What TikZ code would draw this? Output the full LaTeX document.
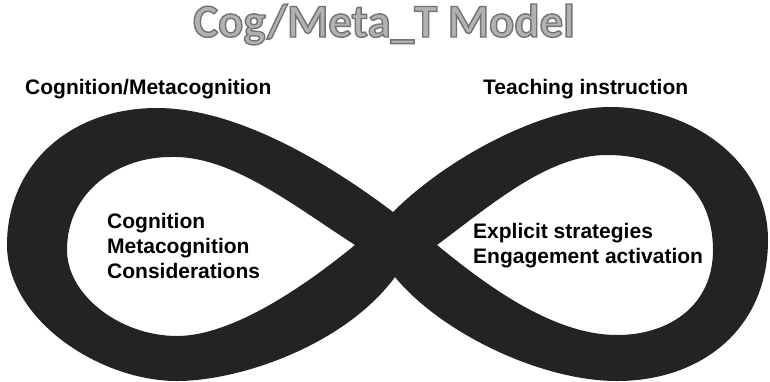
\documentclass[tikz,border=0pt]{standalone}
\usepackage{fontspec}
\setmainfont{Liberation Sans}
\newfontfamily\titlefont{Carlito}
\definecolor{bandblack}{RGB}{35,35,38}
\definecolor{titlefill}{RGB}{178,178,178}
\tikzset{
  lbl/.style={font=\fontsize{21}{25}\selectfont\bfseries, inner sep=0pt, text=black},
  ttl/.style={font=\titlefont\fontsize{47}{50}\selectfont\bfseries, inner sep=0pt, text=titlefill}
}
\begin{document}
\begin{tikzpicture}[x=1pt,y=-1pt]
\useasboundingbox (0,0) rectangle (770,381);
\fill[white] (0,0) rectangle (770,381);

% title
\node[ttl, anchor=base] (title) at (384,37)
  {\special{pdf:literal direct 0.45 0.45 0.45 RG 2 Tr 1.4 w}Cog/Meta\_T Model\special{pdf:literal direct 0 Tr}};

% infinity band (outer contour + two holes, even-odd)
\fill[bandblack, even odd rule]
  (393,212) .. controls (445,160) and (540,107) .. (610,107)
            .. controls (690,107) and (768,160) .. (768,240)
            .. controls (768,330) and (700,381) .. (617,381)
            .. controls (540,381) and (440,332) .. (395,277)
            .. controls (345,345) and (240,381) .. (177,381)
            .. controls (100,381) and (7,320) .. (7,245)
            .. controls (7,165) and (70,108) .. (157,108)
            .. controls (240,108) and (335,168) .. (393,212) -- cycle
  (355,245) .. controls (290,203) and (230,155) .. (170,157)
            .. controls (120,157) and (67,190) .. (67,250)
            .. controls (67,295) and (120,336) .. (177,336)
            .. controls (230,336) and (300,290) .. (355,245) -- cycle
  (437,245) .. controls (497,200) and (550,155) .. (607,155)
            .. controls (665,155) and (713,185) .. (713,250)
            .. controls (713,305) and (670,335) .. (617,335)
            .. controls (550,335) and (480,280) .. (437,245) -- cycle;

% labels
\node[lbl, anchor=base west] (cogmeta) at (25,94) {Cognition/Metacognition};
\node[lbl, anchor=base west] (teach) at (483,94) {Teaching instruction};
\node[lbl, anchor=base west, align=left] (leftin) at (107,278)
  {Cognition\\Metacognition\\Considerations};
\node[lbl, anchor=base west, align=left] (rightin) at (473,263)
  {Explicit strategies\\Engagement activation};
\end{tikzpicture}
\end{document}
